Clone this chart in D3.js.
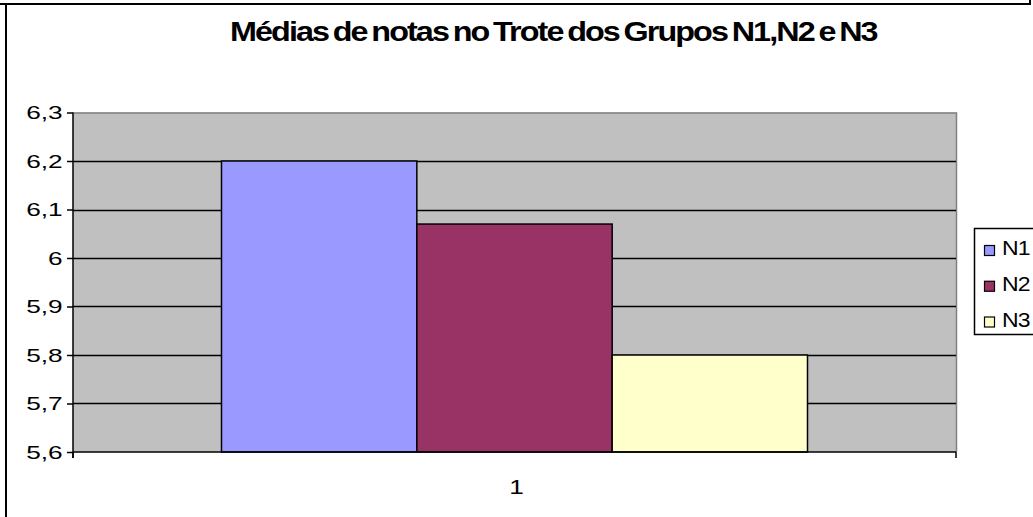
<!DOCTYPE html>
<html><head><meta charset="utf-8">
<script src="https://cdn.jsdelivr.net/npm/d3@7"></script>
<style>body{margin:0;background:#fff}svg{display:block}text{font-family:"Liberation Sans",Arial,sans-serif}</style>
</head><body>
<svg id="c" width="1033" height="517"></svg>
<script>
const categories = ["1"];
const seriesNames = ["N1","N2","N3"];
const seriesValues = [6.2, 6.07, 5.8];
const yTicks = [5.6,5.7,5.8,5.9,6.0,6.1,6.2,6.3];
const colors = ["#9999FF","#993366","#FFFFCC"];
const titleText = "Médias de notas no Trote dos Grupos N1,N2 e N3";

const svg = d3.select("#c");
const L=73, R=956, T=112.5, B=452;
const FF = "Liberation Sans, Arial, sans-serif";

// outer frame
svg.append("line").attr("x1",0).attr("x2",1031).attr("y1",4).attr("y2",4).attr("stroke","#000").attr("stroke-width",2);
svg.append("line").attr("x1",6).attr("x2",6).attr("y1",4).attr("y2",517).attr("stroke","#000").attr("stroke-width",2);
svg.append("line").attr("x1",1030).attr("x2",1030).attr("y1",0).attr("y2",4).attr("stroke","#000").attr("stroke-width",2);

const y = d3.scaleLinear().domain([5.6,6.3]).range([B,T]);
const x0 = d3.scaleBand().domain(categories).range([L,R]).paddingInner(0).paddingOuter(0.2534);
const x1 = d3.scaleBand().domain(seriesNames).range([0,x0.bandwidth()]);

// plot area
svg.append("rect").attr("x",L).attr("y",T).attr("width",R-L).attr("height",B-T).attr("fill","#C0C0C0");
svg.append("path").attr("d",`M${L},${T+0.5}H${R+0.5}V${B}`).attr("fill","none").attr("stroke","#808080").attr("stroke-width",1.5);

// gridlines
svg.append("g").selectAll("line").data(yTicks.filter(v=>v>5.6 && v<6.3)).join("line")
  .attr("x1",L).attr("x2",R).attr("y1",d=>Math.round(y(d))+0.5).attr("y2",d=>Math.round(y(d))+0.5)
  .attr("stroke","#000").attr("stroke-width",1.5);

// bars
const data = seriesNames.map((n,i)=>({name:n,value:seriesValues[i],color:colors[i]}));
svg.append("g").selectAll("rect").data(data).join("rect")
  .attr("x",d=>x0(categories[0])+x1(d.name))
  .attr("y",d=>y(d.value))
  .attr("width",x1.bandwidth())
  .attr("height",d=>B-y(d.value))
  .attr("fill",d=>d.color).attr("stroke","#000").attr("stroke-width",1.5);

// y axis
const fmt = d=> (Math.abs(d-6)<1e-9 ? "6" : d3.format(".1f")(d).replace(".",","));
const ya = svg.append("g").attr("transform",`translate(${L},0)`)
  .call(d3.axisLeft(y).tickValues(yTicks).tickFormat(fmt).tickSize(6).tickPadding(5));
ya.select(".domain").attr("stroke","#000").attr("stroke-width",1.5).attr("d",`M0,${T}V${B+6}`);
ya.selectAll(".tick line").attr("stroke","#000").attr("stroke-width",1.5);
ya.selectAll(".tick text").attr("font-size","17.5px").attr("fill","#000").attr("font-family",FF)
  .attr("x",0).attr("dy","0.36em").attr("transform","translate(-10.3,0) scale(1.5,1)");

// x axis
const xa = svg.append("g").attr("transform",`translate(0,${B})`)
  .call(d3.axisBottom(x0).tickSize(0).tickPadding(0));
xa.select(".domain").attr("stroke","#000").attr("stroke-width",1.5).attr("d",`M${L},0H${R}`);
xa.selectAll(".tick text").attr("font-size","21px").attr("fill","#000").attr("font-family",FF)
  .attr("y",0).attr("dy",0).attr("transform","translate(2,42) scale(1.25,1)");
svg.append("g").selectAll("line").data([L,R]).join("line")
  .attr("x1",d=>d).attr("x2",d=>d).attr("y1",B).attr("y2",B+6).attr("stroke","#000").attr("stroke-width",1.5);

// title
const tt = svg.append("text").attr("font-size","27px").attr("font-weight","bold").attr("font-family",FF)
  .attr("letter-spacing","-1.6px").attr("word-spacing","-2px").text(titleText);
const nat = tt.node().getComputedTextLength();
tt.attr("transform",`translate(230,41) scale(${647/nat},1)`);

// legend
const lg = svg.append("g");
lg.append("rect").attr("x",974.5).attr("y",228.5).attr("width",70).attr("height",106).attr("fill","#fff").attr("stroke","#000").attr("stroke-width",1.5);
const ly = d3.scalePoint().domain(seriesNames).range([250.5,322]);
const li = lg.selectAll("g").data(data).join("g").attr("transform",d=>`translate(0,${ly(d.name)})`);
li.append("rect").attr("x",984.5).attr("y",-5).attr("width",10).attr("height",10).attr("fill",d=>d.color).attr("stroke","#000").attr("stroke-width",1.2);
li.append("text").attr("font-size","20px").attr("font-family",FF).attr("letter-spacing","-0.8px")
  .attr("transform","translate(1002,4.5) scale(1.15,1)").text(d=>d.name);
</script>
</body></html>
